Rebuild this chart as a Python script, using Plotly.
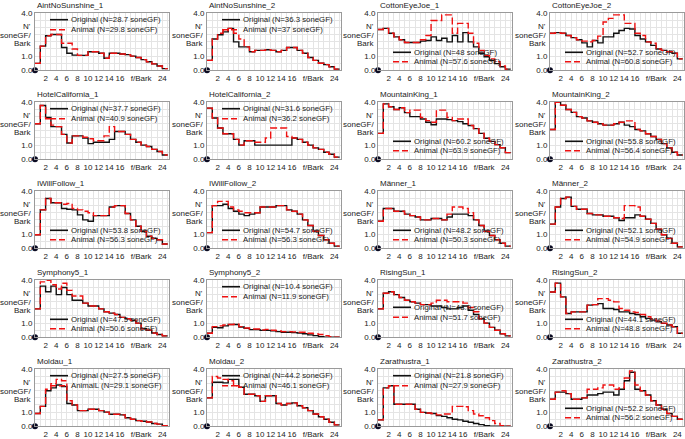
import plotly.graph_objects as go

# ---------------- data (N' in soneGF/Bark, one value per 1-Bark band starting at 0) ----------------
TITLES = ["AintNoSunshine_1", "AintNoSunshine_2", "CottonEyeJoe_1", "CottonEyeJoe_2",
          "HotelCalifornia_1", "HotelCalifornia_2", "MountainKing_1", "MountainKing_2",
          "IWillFollow_1", "IWillFollow_2", "Männer_1", "Männer_2",
          "Symphony5_1", "Symphony5_2", "RisingSun_1", "RisingSun_2",
          "Moldau_1", "Moldau_2", "Zarathustra_1", "Zarathustra_2"]
ORIG_NAMES = ["Original (N=28.7 soneGF)", "Original (N=36.3 soneGF)", "Original (N=48 soneGF)", "Original (N=52.7 soneGF)",
              "Original (N=37.7 soneGF)", "Original (N=31.6 soneGF)", "Original (N=60.2 soneGF)", "Original (N=55.8 soneGF)",
              "Original (N=53.8 soneGF)", "Original (N=54.7 soneGF)", "Original (N=48.2 soneGF)", "Original (N=52.1 soneGF)",
              "Original (N=47.5 soneGF)", "Original (N=10.4 soneGF)", "Original (N=48.9 soneGF)", "Original (N=44.1 soneGF)",
              "Original (N=27.5 soneGF)", "Original (N=44.2 soneGF)", "Original (N=21.8 soneGF)", "Original (N=52.2 soneGF)"]
ANIM_NAMES = ["Animal (N=29.8 soneGF)", "Animal (N=37 soneGF)", "Animal (N=57.6 soneGF)", "Animal (N=60.8 soneGF)",
              "Animal (N=40.9 soneGF)", "Animal (N=36.2 soneGF)", "Animal (N=63.9 soneGF)", "Animal (N=56.4 soneGF)",
              "Animal (N=56.3 soneGF)", "Animal (N=56.3 soneGF)", "Animal (N=50.3 soneGF)", "Animal (N=54.9 soneGF)",
              "Animal (N=50.6 soneGF)", "Animal (N=11.9 soneGF)", "Animal (N=51.7 soneGF)", "Animal (N=48.8 soneGF)",
              "AnimalL (N=29.1 soneGF)", "Animal (N=46.1 soneGF)", "Animal (N=27.9 soneGF)", "Animal (N=56.2 soneGF)"]
LEGEND_AT = ["top", "top", "bottom", "bottom",
             "top", "top", "bottom", "bottom",
             "bottom", "bottom", "bottom", "bottom",
             "bottom", "top", "middle", "bottom",
             "top", "top", "top", "bottom"]

X_TICKS = [2, 4, 6, 8, 10, 12, 14, 16, 20, 24]
X_TICK_TEXT = ["2", "4", "6", "8", "10", "12", "14", "16", "f/Bark", "24"]
Y_TICKS = [0, 1, 4]
Y_TICK_TEXT = ["0.0", "1.0", "4.0"]
Y_LABEL_LINES = ["N'", "soneGF/", "Bark"]
Y_LABEL_AT = [3.1, 2.48, 1.89]

aint1_orig = [0.49,1.7,2.43,2.52,2.52,1.6,1.2,1.07,1.05,1.05,1.3,1.3,1.2,0.85,1.2,1.2,1.15,1.1,1.0,0.9,0.75,0.6,0.45,0.3,0.12]
aint1_anim = [0.49,1.7,2.43,2.52,2.52,1.9,1.9,1.5,1.05,1.05,1.3,1.3,1.2,0.85,1.2,1.2,1.15,1.1,1.0,0.9,0.75,0.6,0.45,0.3,0.12]
aint2_orig = [0.7,2.2,2.5,2.7,2.95,2.0,1.65,1.65,1.3,1.4,1.4,1.45,1.4,1.3,1.4,1.6,1.6,1.4,1.2,0.9,0.7,0.5,0.4,0.25,0.08]
aint2_anim = [0.7,2.2,2.6,2.8,2.95,2.6,2.2,1.65,1.3,1.4,1.4,1.45,1.4,1.3,1.4,1.6,1.6,1.4,1.2,0.9,0.7,0.5,0.4,0.25,0.08]
cej1_orig = [2.87,2.95,2.6,2.35,2.15,1.95,1.95,1.95,2.05,2.1,2.35,2.1,2.25,2.0,2.45,2.0,2.65,2.0,1.65,1.2,0.95,0.7,0.47,0.25,0.08]
cej1_anim = [2.87,2.95,2.6,2.35,2.15,1.95,1.95,1.95,2.15,2.45,3.5,3.5,3.9,3.9,2.6,3.3,3.3,2.6,1.9,1.4,1.05,0.8,0.6,0.3,0.08]
cej2_orig = [2.6,2.65,2.6,2.45,2.3,2.15,1.93,1.65,2.1,1.93,2.35,2.35,2.6,2.8,2.95,2.9,2.45,2.2,2.0,1.75,1.5,1.4,1.3,1.2,0.8]
cej2_anim = [2.6,2.65,2.6,2.45,2.3,2.15,2.05,2.0,2.1,2.4,3.4,3.65,3.9,3.9,3.3,3.3,2.6,2.45,2.0,1.9,1.5,1.4,1.3,1.2,0.8]
hc1_orig = [2.5,3.78,2.95,2.3,2.3,1.75,1.15,1.65,1.65,1.5,1.1,1.2,1.2,1.2,1.4,1.95,1.95,1.75,1.4,1.2,1.0,0.9,0.7,0.55,0.3]
hc1_anim = [2.5,3.78,2.85,2.4,2.3,1.75,1.15,1.65,1.65,1.55,1.45,1.3,1.3,1.65,2.3,1.95,1.95,1.75,1.4,1.2,1.0,0.9,0.7,0.55,0.3]
hc2_orig = [3.6,2.9,2.2,1.8,1.8,1.4,1.0,1.3,1.3,1.0,1.0,1.0,1.0,1.0,1.0,1.0,1.5,1.4,1.2,1.0,0.8,0.7,0.5,0.35,0.15]
hc2_anim = [3.6,2.9,2.2,1.8,1.8,1.4,1.0,1.3,1.3,1.2,1.2,1.5,2.2,2.2,2.2,1.6,1.5,1.4,1.2,1.0,0.8,0.7,0.5,0.35,0.15]
mk1_orig = [1.82,3.9,3.69,3.5,3.62,3.28,3.0,3.0,2.83,2.6,2.43,2.83,2.83,2.79,2.72,2.65,2.5,2.38,2.16,1.82,1.48,1.26,1.03,0.81,0.47]
mk1_anim = [1.82,3.9,3.69,3.5,3.62,3.28,3.46,3.46,2.94,2.72,2.6,3.46,3.46,2.94,2.72,2.83,2.83,2.38,2.16,1.82,1.48,1.26,1.03,0.81,0.47]
mk2_orig = [2.1,4.0,3.8,3.5,3.3,3.0,2.9,2.7,2.6,2.5,2.4,2.4,2.5,2.6,2.4,2.3,2.1,2.0,1.8,1.6,1.4,1.1,0.8,0.5,0.3]
mk2_anim = [2.1,4.0,3.8,3.5,3.3,3.0,2.9,2.7,2.6,2.5,2.4,2.4,2.5,2.6,2.7,2.7,2.1,2.0,1.8,1.6,1.4,1.1,0.8,0.5,0.3]
iwf1_orig = [0.95,2.7,3.5,3.2,3.2,2.8,2.75,2.7,2.35,2.0,1.9,2.3,2.3,2.3,2.9,3.0,3.0,2.45,2.0,1.55,1.2,0.85,0.7,0.6,0.3]
iwf1_anim = [0.95,2.7,3.5,3.2,3.2,3.1,3.15,2.8,2.7,2.6,2.5,2.3,2.3,2.3,2.9,3.0,3.0,2.45,2.0,1.55,1.2,0.85,0.7,0.6,0.3]
iwf2_orig = [1.1,3.0,3.0,3.1,2.8,2.6,2.4,2.3,2.4,2.5,2.9,2.9,2.9,3.0,3.0,2.7,2.6,2.4,2.0,1.6,1.2,0.9,0.6,0.35,0.15]
iwf2_anim = [1.1,3.0,3.3,3.3,2.9,2.7,2.6,2.5,2.5,2.5,2.9,2.9,2.9,3.0,3.0,2.7,2.6,2.4,2.0,1.6,1.2,0.9,0.6,0.35,0.15]
man1_orig = [1.9,2.8,2.8,2.6,2.6,2.4,2.3,2.2,2.0,2.0,2.1,2.1,2.0,2.2,2.4,2.4,2.4,2.3,2.0,1.6,1.2,0.9,0.6,0.35,0.15]
man1_anim = [1.9,2.8,2.8,2.6,2.6,2.4,2.3,2.2,2.0,2.0,2.1,2.1,2.0,2.4,2.9,2.9,2.8,2.5,2.0,1.6,1.2,0.9,0.6,0.35,0.15]
man2_orig = [1.7,2.9,3.5,3.6,2.95,2.75,2.75,2.45,2.35,2.35,2.25,2.25,2.15,1.95,2.15,2.15,2.35,2.25,2.05,1.75,1.35,0.95,0.7,0.35,0.1]
man2_anim = [1.7,2.9,3.5,3.6,2.95,2.75,2.75,2.45,2.35,2.35,2.25,2.25,2.15,2.1,3.0,3.0,2.9,2.25,2.05,1.75,1.35,0.95,0.7,0.35,0.1]
sym1_orig = [2.0,3.6,3.2,3.6,3.0,3.5,3.0,2.6,2.6,2.4,2.2,2.2,2.0,1.8,1.7,1.6,1.4,1.3,1.2,1.0,0.6,0.5,0.3,0.2,0.1]
sym1_anim = [2.0,3.9,4.0,3.7,3.4,3.8,3.3,2.9,2.9,2.4,2.2,2.2,2.0,1.8,1.7,1.6,1.4,1.3,1.2,1.0,0.6,0.5,0.3,0.2,0.1]
sym2_orig = [0.28,0.7,0.67,0.8,0.9,0.9,0.72,0.63,0.54,0.54,0.49,0.49,0.45,0.4,0.35,0.35,0.33,0.3,0.25,0.17,0.12,0.05,0.0,0.0,0.0]
sym2_anim = [0.28,0.75,0.8,0.86,0.9,0.92,0.75,0.65,0.58,0.58,0.52,0.56,0.5,0.45,0.4,0.4,0.38,0.35,0.35,0.28,0.24,0.2,0.12,0.05,0.0]
rs1_orig = [2.0,3.1,3.2,3.0,2.8,2.6,2.5,2.4,2.3,2.3,2.2,2.2,2.1,2.0,2.0,2.1,2.2,1.9,1.6,1.3,1.0,0.7,0.5,0.25,0.1]
rs1_anim = [2.0,3.1,3.2,3.0,2.8,2.6,2.5,2.4,2.3,2.3,2.4,2.6,2.6,2.5,2.5,2.5,2.4,2.1,1.8,1.3,1.0,0.7,0.5,0.25,0.1]
rs2_orig = [3.19,3.81,2.84,1.67,1.79,1.79,1.79,2.26,2.3,2.37,2.02,2.02,1.95,1.79,1.79,1.67,1.6,1.44,1.33,1.21,1.09,0.98,0.86,0.74,0.28]
rs2_anim = [3.19,3.81,2.84,1.67,1.79,1.79,1.79,2.26,2.3,2.72,2.72,2.6,2.49,2.02,1.9,1.79,1.74,1.6,1.44,1.3,1.15,1.0,0.86,0.74,0.28]
mol1_orig = [0.9,1.4,2.5,2.7,2.9,2.8,1.6,1.5,1.1,1.1,1.2,1.2,1.1,1.0,0.85,0.85,0.8,0.6,0.5,0.4,0.35,0.3,0.2,0.15,0.05]
mol1_anim = [0.9,1.4,2.6,3.0,3.3,3.2,1.8,1.5,1.1,1.1,1.2,1.2,1.1,1.0,0.85,0.85,0.8,0.6,0.5,0.4,0.35,0.3,0.2,0.15,0.05]
mol2_orig = [2.0,3.1,3.1,3.05,3.3,3.3,2.75,2.25,2.25,2.15,1.75,2.15,2.15,1.6,1.5,1.6,1.65,1.45,1.3,1.1,0.86,0.67,0.5,0.28,0.1]
mol2_anim = [2.0,3.5,3.4,3.3,3.2,2.85,2.75,2.25,2.25,2.15,1.75,2.15,2.15,1.6,1.5,1.6,1.65,1.45,1.3,1.1,0.86,0.67,0.5,0.28,0.1]
zar1_orig = [0.45,2.7,2.85,1.55,1.55,1.55,1.55,1.2,0.98,0.93,0.9,0.75,0.7,0.6,0.5,0.45,0.35,0.28,0.2,0.12,0.05,0.0,0.0,0.0,0.0]
zar1_anim = [0.45,2.7,2.85,1.55,1.55,1.55,1.55,1.2,0.98,0.93,0.9,0.8,0.86,0.86,1.4,1.4,1.37,1.1,0.86,0.74,0.6,0.4,0.2,0.05,0.0]
zar2_orig = [1.9,2.4,2.4,2.3,1.9,1.9,2.0,2.2,2.2,2.3,2.4,2.4,2.2,2.6,3.2,3.8,2.6,2.5,2.2,1.8,1.5,1.2,0.9,0.7,0.5]
zar2_anim = [1.9,2.4,2.5,2.3,1.9,1.9,2.0,2.6,2.6,2.7,2.9,2.9,2.6,2.7,3.4,3.9,2.9,2.5,2.2,1.8,1.5,1.2,0.9,0.7,0.5]

ORIGINAL = [aint1_orig, aint2_orig, cej1_orig, cej2_orig, hc1_orig, hc2_orig, mk1_orig, mk2_orig,
            iwf1_orig, iwf2_orig, man1_orig, man2_orig, sym1_orig, sym2_orig, rs1_orig, rs2_orig,
            mol1_orig, mol2_orig, zar1_orig, zar2_orig]
ANIMAL = [aint1_anim, aint2_anim, cej1_anim, cej2_anim, hc1_anim, hc2_anim, mk1_anim, mk2_anim,
          iwf1_anim, iwf2_anim, man1_anim, man2_anim, sym1_anim, sym2_anim, rs1_anim, rs2_anim,
          mol1_anim, mol2_anim, zar1_anim, zar2_anim]

BARK_EDGES = list(range(26))  # band edges 0..25 Bark

# ---------------- layout constants (pixels) ----------------
W, H = 685, 439
COL_LEFT = [35, 207, 378, 550]
PW = 134
ROW_BOTTOM = [70.3, 159.3, 248.3, 337.3, 426.3]
PH = 57.6
FONT = "Liberation Sans, Arial, sans-serif"
FS = 8.0
FS_LEG = 7.8
BLACK = "#111111"
RED = "#ee1111"
GRID = "#e4e4e4"
FRAME = "#9a9a9a"
LEGEND_OFFSETS = {"top": [PH - 7, PH - 17], "middle": [30, 20], "bottom": [18, 8.5]}

fig = go.Figure()
annotations = []
shapes = []

for i in range(20):
    r, c = divmod(i, 4)
    n = "" if i == 0 else str(i + 1)
    xa, ya = "x" + n, "y" + n
    xd = [COL_LEFT[c] / W, (COL_LEFT[c] + PW) / W]
    yd = [1 - ROW_BOTTOM[r] / H, 1 - (ROW_BOTTOM[r] - PH) / H]

    o = ORIGINAL[i]
    a = ANIMAL[i]
    fig.add_trace(go.Scatter(x=BARK_EDGES, y=o + [o[-1]], mode="lines", name=ORIG_NAMES[i],
                             line=dict(shape="hv", color=BLACK, width=1.4),
                             xaxis=xa, yaxis=ya, showlegend=False, hoverinfo="skip"))
    fig.add_trace(go.Scatter(x=BARK_EDGES, y=a + [a[-1]], mode="lines", name=ANIM_NAMES[i],
                             line=dict(shape="hv", color=RED, width=1.4, dash="7px,3px"),
                             xaxis=xa, yaxis=ya, showlegend=False, hoverinfo="skip"))
    fig.add_trace(go.Scatter(x=[0], y=[0], mode="markers", marker=dict(size=6, color="#0b0b22"),
                             cliponaxis=False, xaxis=xa, yaxis=ya, showlegend=False, hoverinfo="skip"))

    axis_common = dict(showline=True, mirror=True, linecolor=FRAME, linewidth=1, automargin=False,
                       zeroline=False, ticks="", showgrid=True, gridcolor=GRID, gridwidth=1,
                       ticklabeloverflow="allow",
                       tickfont=dict(family=FONT, size=FS, color="#222"), fixedrange=True)
    fig.update_layout(**{
        ("xaxis" + n): dict(axis_common, domain=xd, range=[0, 25.25], anchor=ya, tickangle=0,
                            tickmode="array", tickvals=X_TICKS, ticktext=X_TICK_TEXT,
                            minor=dict(tickmode="linear", tick0=0, dtick=1, showgrid=True,
                                       gridcolor=GRID, gridwidth=1)),
        ("yaxis" + n): dict(axis_common, domain=yd, range=[0, 4.05], anchor=xa,
                            tickmode="array", tickvals=Y_TICKS, ticktext=Y_TICK_TEXT,
                            minor=dict(tickmode="linear", tick0=0, dtick=0.5, showgrid=True,
                                       gridcolor=GRID, gridwidth=1)),
    })

    # panel title
    annotations.append(dict(text=TITLES[i], xref=xa + " domain", yref=ya + " domain", x=0, y=1,
                            xanchor="left", yanchor="bottom", yshift=1, showarrow=False,
                            font=dict(family=FONT, size=FS, color="#222")))
    # y axis label lines
    for txt, yv in zip(Y_LABEL_LINES, Y_LABEL_AT):
        annotations.append(dict(text=txt, xref=xa + " domain", yref=ya, x=0, y=yv,
                                xanchor="right", yanchor="middle", xshift=-2, showarrow=False,
                                font=dict(family=FONT, size=FS, color="#222")))
    # legend (key lines + text)
    offs = LEGEND_OFFSETS[LEGEND_AT[i]]
    for k, (txt, col, dash) in enumerate([(ORIG_NAMES[i], BLACK, "solid"), (ANIM_NAMES[i], RED, "6px,3px")]):
        yf = offs[k] / PH
        shapes.append(dict(type="line", xref=xa + " domain", yref=ya + " domain",
                           x0=15 / PW, x1=33 / PW, y0=yf, y1=yf,
                           line=dict(color=col, width=1.6, dash=dash)))
        annotations.append(dict(text=txt, xref=xa + " domain", yref=ya + " domain",
                                x=34 / PW, y=yf, xanchor="left", yanchor="middle", showarrow=False,
                                font=dict(family=FONT, size=FS_LEG, color="#222")))

fig.update_layout(width=W, height=H, margin=dict(l=0, r=0, t=0, b=0, autoexpand=False),
                  paper_bgcolor="white", plot_bgcolor="white", showlegend=False,
                  annotations=annotations, shapes=shapes,
                  font=dict(family=FONT, size=FS, color="#222"))

fig.write_html("out.html", config={"displayModeBar": False},
               post_script="document.body.style.margin='0px';document.body.style.overflow='hidden';")
